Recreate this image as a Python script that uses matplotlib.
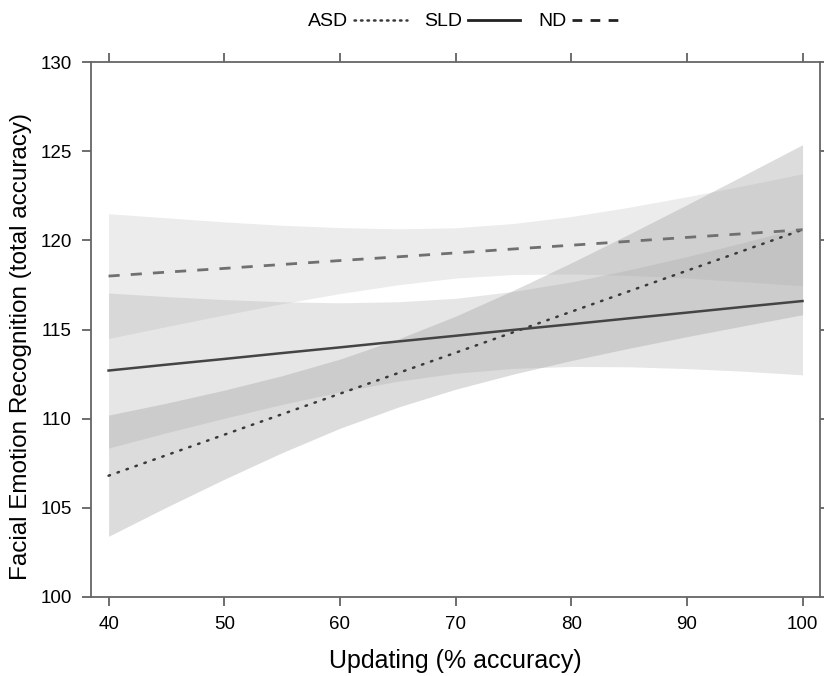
import matplotlib
matplotlib.use('Agg')
import matplotlib.pyplot as plt
from matplotlib.lines import Line2D

plt.rcParams['font.family'] = ['Liberation Sans', 'DejaVu Sans']

# x values where lines and band edges were read
x = [40, 45, 50, 55, 60, 65, 70, 75, 80, 85, 90, 95, 100]

# fitted lines
asd = [106.8, 107.95, 109.1, 110.25, 111.4, 112.55, 113.7, 114.85, 116.0, 117.15, 118.3, 119.45, 120.6]
sld = [112.7, 113.03, 113.35, 113.68, 114.0, 114.33, 114.65, 114.98, 115.3, 115.63, 115.95, 116.28, 116.6]
nd = [118.0, 118.22, 118.43, 118.65, 118.87, 119.08, 119.3, 119.52, 119.73, 119.95, 120.17, 120.38, 120.6]

# half widths of confidence bands
asd_hw = [3.40, 2.92, 2.50, 2.16, 1.94, 1.91, 2.05, 2.35, 2.74, 3.20, 3.70, 4.23, 4.77]
sld_hw = [4.35, 3.82, 3.33, 2.88, 2.50, 2.23, 2.10, 2.16, 2.37, 2.72, 3.14, 3.62, 4.14]
nd_hw = [3.50, 3.05, 2.61, 2.20, 1.85, 1.57, 1.41, 1.43, 1.61, 1.91, 2.28, 2.70, 3.14]

fig = plt.figure(figsize=(8.24, 6.76), dpi=100)
ax = fig.add_axes([0.110, 0.117, 0.885, 0.791])

# each band has its own shade (ASD darkest, ND lightest)
for mid, hw, a in [(asd, asd_hw, 0.36), (sld, sld_hw, 0.26), (nd, nd_hw, 0.20)]:
    lo = [m - h for m, h in zip(mid, hw)]
    hi = [m + h for m, h in zip(mid, hw)]
    ax.fill_between(x, lo, hi, color='#a0a0a0', alpha=a, linewidth=0)

ax.plot(x, asd, color='#3a3a3a', lw=1.8, linestyle=(0, (0.6, 3.2)), dash_capstyle='round')
ax.plot(x, sld, color='#444444', lw=1.8)
ax.plot(x, nd, color='#707070', lw=2.0, linestyle=(0, (4, 4)))

ax.set_xlim(38.45, 101.5)
ax.set_ylim(100, 130)
ax.set_xticks([40, 50, 60, 70, 80, 90, 100])
ax.set_yticks([100, 105, 110, 115, 120, 125, 130])
ax.tick_params(direction='out', top=True, right=True, length=6.5, width=1.2,
               color='#555555', labelsize=13.5, pad=7)
for s in ax.spines.values():
    s.set_color('#666666')
    s.set_linewidth(1.3)

ax.set_xlabel('Updating (% accuracy)', fontsize=18, labelpad=12)
ax.set_ylabel('Facial Emotion Recognition (total accuracy)', fontsize=17.5)
ax.yaxis.set_label_coords(-0.080, 0.469)

handles = [
    Line2D([], [], color='#3a3a3a', lw=1.8, linestyle=(0, (0.6, 2.0)), dash_capstyle='round'),
    Line2D([], [], color='#222222', lw=2.0),
    Line2D([], [], color='#222222', lw=2.0, linestyle=(0, (3.5, 3.0))),
]
fig.legend(handles, ['ASD', 'SLD', 'ND'], loc='center', bbox_to_anchor=(0.566, 0.968),
           ncol=3, frameon=False, markerfirst=False, fontsize=14, handlelength=2.7,
           handletextpad=0.3, columnspacing=0.9)

fig.savefig('out.png', dpi=100)
